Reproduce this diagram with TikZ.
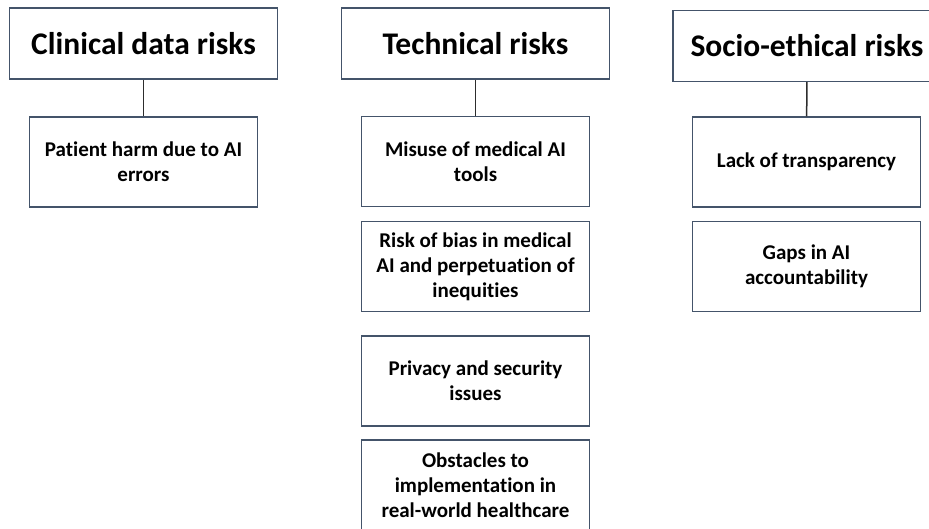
\documentclass[tikz,border=0pt]{standalone}
\usepackage{fontspec}
\setmainfont{Carlito}[Ligatures=NoCommon]
\definecolor{boxline}{RGB}{68,84,106}
\definecolor{linkline}{RGB}{45,45,45}

\begin{document}
\begin{tikzpicture}[x=1pt,y=-1pt,
  head/.style={draw=boxline,line width=1.3pt,minimum width=268pt,minimum height=71pt,inner sep=0pt,font=\fontsize{31.5}{38}\selectfont\bfseries},
  item/.style={draw=boxline,line width=1.3pt,minimum width=228pt,minimum height=90pt,inner sep=0pt,align=center,font=\fontsize{21}{25}\selectfont\bfseries},
  link/.style={draw=linkline,line width=1.5pt}]
\useasboundingbox (0,0) rectangle (929,528);
\clip (0,0) rectangle (929,528);

% headers
\node[head] (clinical) at (143.5,43.5) {Clinical data risks};
\node[head] (technical) at (475.5,43.5) {Technical risks};
\node[head] (socio) at (807,46) {Socio-ethical risks};

% clinical column
\node[item] (harm) at (143.5,162) {Patient harm due to AI\\errors};

% technical column
\node[item] (misuse) at (475.5,161.5) {Misuse of medical AI\\tools};
\node[item] (bias) at (475.5,266.5) {Risk of bias in medical\\AI and perpetuation of\\inequities};
\node[item] (privacy) at (475.5,381) {Privacy and security\\issues};
\node[item] (obstacles) at (475.5,485) {Obstacles to\\implementation in\\real-world healthcare};

% socio-ethical column
\node[item] (transparency) at (806.5,162) {Lack of transparency};
\node[item] (gaps) at (806.5,266.5) {Gaps in AI\\accountability};

\draw[link] (clinical) -- (harm);
\draw[link] (technical) -- (misuse);
\draw[link] (socio) -- (transparency);
\end{tikzpicture}
\end{document}
